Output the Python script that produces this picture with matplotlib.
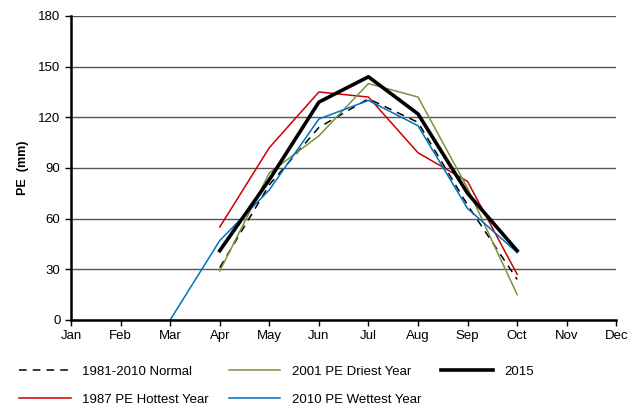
import matplotlib
matplotlib.use("Agg")
import matplotlib.pyplot as plt
import numpy as np

plt.rcParams['font.family'] = ['Liberation Sans', 'DejaVu Sans']

months = ['Jan', 'Feb', 'Mar', 'Apr', 'May', 'Jun', 'Jul', 'Aug', 'Sep', 'Oct', 'Nov', 'Dec']
nan = np.nan

# PE (mm) per month, nan where no value
normal_8110 = [nan, nan, nan, 31, 80, 114, 131, 117, 68, 24, nan, nan]
hottest_1987 = [nan, nan, nan, 55, 102, 135, 132, 99, 82, 27, nan, nan]
driest_2001 = [nan, nan, nan, 29, 87, 109, 140, 132, 78, 15, nan, nan]
wettest_2010 = [nan, nan, 0, 47, 77, 119, 130, 115, 66, 40, nan, nan]
pe_2015 = [nan, nan, nan, 41, 83, 129, 144, 122, 75, 41, nan, nan]

x = np.arange(len(months))

fig = plt.figure(figsize=(6.37, 4.05), dpi=100)
ax = fig.add_axes([0.1115, 0.21, 0.856, 0.7505])

ax.yaxis.grid(True, color='#555555', linewidth=1)
ax.set_axisbelow(True)

l1, = ax.plot(x, normal_8110, color='black', linestyle=(0, (5, 4)), linewidth=1.1, label='1981-2010 Normal')
l2, = ax.plot(x, hottest_1987, color='#CC0000', linewidth=1.1, label='1987 PE Hottest Year')
l3, = ax.plot(x, driest_2001, color='#77933C', linewidth=1.1, label='2001 PE Driest Year')
l4, = ax.plot(x, wettest_2010, color='#0070C0', linewidth=1.1, label='2010 PE Wettest Year')
l5, = ax.plot(x, pe_2015, color='black', linewidth=2.6, label='2015')

ax.set_xlim(0, 11)
ax.set_ylim(0, 180)
ax.set_yticks(np.arange(0, 181, 30))
ax.set_xticks(x)
ax.set_xticklabels(months)
ax.tick_params(labelsize=9.5, length=4, width=1, color='black')

for side in ['top', 'right']:
    ax.spines[side].set_visible(False)
ax.spines['left'].set_linewidth(1.8)
ax.spines['bottom'].set_linewidth(1.8)

ax.set_ylabel('PE  (mm)', fontsize=9, fontweight='bold', labelpad=7)

fig.legend(handles=[l1, l2, l3, l4, l5], ncol=3, frameon=False, fontsize=9.5,
           loc='upper left', bbox_to_anchor=(0.03, 0.098), borderpad=0, borderaxespad=0,
           handlelength=3.9, columnspacing=1.5, handletextpad=0.9, labelspacing=1.2)

fig.savefig('out.png', dpi=100)
